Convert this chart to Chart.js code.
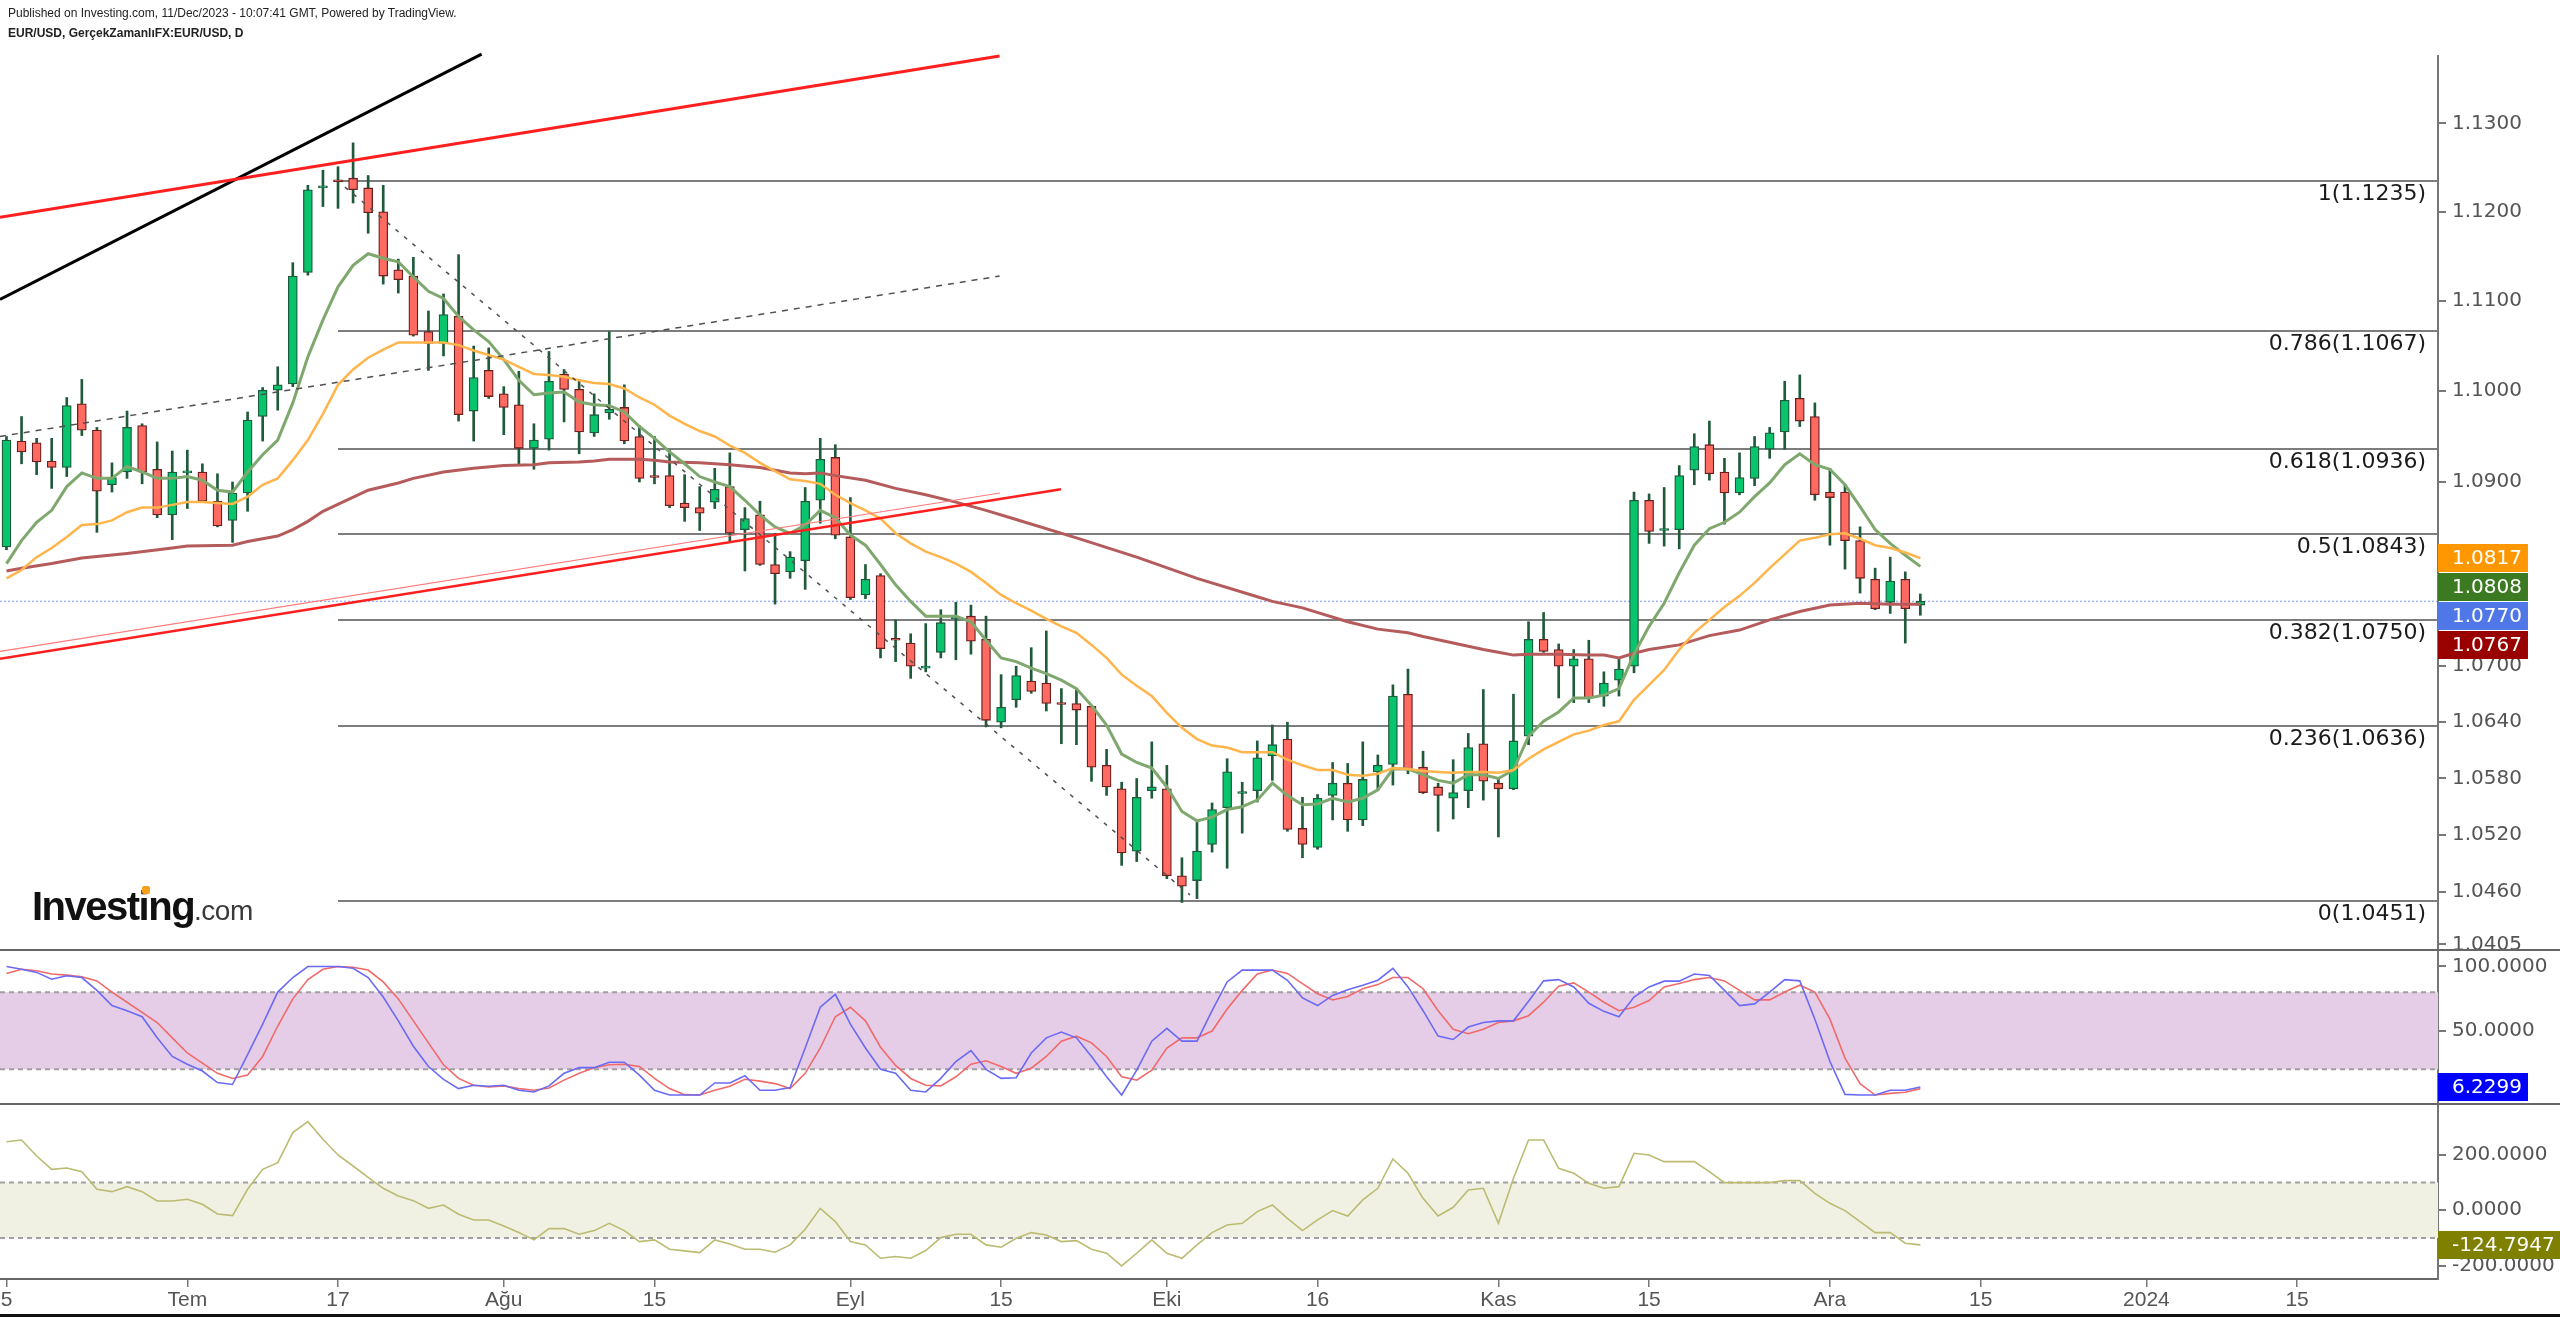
<!DOCTYPE html>
<html>
<head>
<meta charset="utf-8">
<title>EUR/USD D</title>
<script src="https://cdn.jsdelivr.net/npm/chart.js@4.4.1/dist/chart.umd.min.js"></script>
<style>
  html, body { margin: 0; padding: 0; background: #fff; }
  body { width: 2560px; height: 1317px; position: relative; overflow: hidden; }
  .pane { position: absolute; left: 0; width: 2560px; }
  #paneMain { top: 0; height: 949px; }
  #paneStoch { top: 949px; height: 154px; }
  #paneCci { top: 1103px; height: 214px; }
  .hdr { position: absolute; left: 8px; font-family: "Liberation Sans", Arial, sans-serif; font-size: 12px; color: #222; white-space: nowrap; z-index: 5; }
  #hdr1 { top: 6px; }
  #hdr2 { top: 26px; font-weight: bold; }
  #logo { position: absolute; left: 32px; top: 886px; height: 40px; line-height: 40px; font-size: 40px; font-family: "Liberation Sans", Arial, sans-serif; white-space: nowrap; z-index: 5; }
  #logo b { font-weight: 700; letter-spacing: -1.5px; color: #111; }
  #logo span { font-size: 28px; color: #3a3a3a; letter-spacing: -0.5px; }
  #logoDot { position: absolute; left: 142px; top: 886px; width: 8px; height: 8px; background: #f4a01c; border-radius: 2px; z-index: 6; }
  #bottomBar { position: absolute; left: 0; top: 1314px; width: 2560px; height: 3px; background: #111; z-index: 5; }
</style>
</head>
<body>
<div class="hdr" id="hdr1">Published on Investing.com, 11/Dec/2023 - 10:07:41 GMT, Powered by TradingView.</div>
<div class="hdr" id="hdr2">EUR/USD, GerçekZamanlıFX:EUR/USD, D</div>
<div class="pane" id="paneMain"><canvas id="cMain"></canvas></div>
<div class="pane" id="paneStoch"><canvas id="cStoch"></canvas></div>
<div class="pane" id="paneCci"><canvas id="cCci"></canvas></div>
<div id="logo"><b>Investing</b><span>.com</span></div>
<div id="logoDot"></div>
<div id="bottomBar"></div>

<script>
// daily candles, 15 Jun 2023 (index 0) .. 11 Dec 2023 (index 127)
const open = [
  1.0829,1.0945,1.0943,1.0923,1.0916,1.0986,1.0957,1.0897,1.0911,1.0962,
  1.0914,1.0864,1.0910,1.0911,1.0879,1.0858,1.0888,1.0972,1.1001,1.1008,
  1.1132,1.1227,1.1235,1.1238,1.1227,1.1200,1.1135,1.1128,1.1066,1.1053,
  1.1083,1.0978,1.1023,1.0997,1.0985,1.0937,1.0947,1.1019,1.1002,1.0954,
  1.0976,1.0982,1.0950,1.0906,1.0907,1.0877,1.0872,1.0878,1.0895,1.0848,
  1.0864,1.0810,1.0802,1.0814,1.0880,1.0927,1.0840,1.0777,1.0798,1.0729,
  1.0725,1.0698,1.0715,1.0751,1.0754,1.0729,1.0640,1.0664,1.0684,1.0682,
  1.0660,1.0660,1.0657,1.0594,1.0569,1.0503,1.0567,1.0569,1.0477,1.0472,
  1.0510,1.0549,1.0564,1.0567,1.0604,1.0622,1.0527,1.0507,1.0562,1.0575,
  1.0536,1.0587,1.0595,1.0670,1.0592,1.0571,1.0559,1.0567,1.0617,1.0575,
  1.0569,1.0625,1.0729,1.0718,1.0700,1.0708,1.0668,1.0685,1.0700,1.0880,
  1.0847,1.0848,1.0913,1.0941,1.0911,1.0888,1.0904,1.0936,1.0955,1.0992,
  1.0972,1.0889,1.0889,1.0836,1.0794,1.0769,1.0794,1.0766];
const high = [
  1.0950,1.0972,1.0948,1.0948,1.0993,1.1013,1.0960,1.0921,1.0978,1.0964,
  1.0944,1.0934,1.0935,1.0920,1.0909,1.0900,1.0977,1.1004,1.1027,1.1143,
  1.1230,1.1247,1.1251,1.1278,1.1241,1.1230,1.1147,1.1149,1.1089,1.1108,
  1.1152,1.1050,1.1048,1.1005,1.1022,1.0964,1.1044,1.1024,1.1013,1.0997,
  1.1066,1.1007,1.0962,1.0950,1.0935,1.0908,1.0895,1.0915,1.0932,1.0872,
  1.0879,1.0844,1.0824,1.0894,1.0948,1.0941,1.0883,1.0810,1.0800,1.0750,
  1.0735,1.0746,1.0761,1.0769,1.0766,1.0754,1.0691,1.0700,1.0720,1.0738,
  1.0676,1.0676,1.0658,1.0611,1.0576,1.0580,1.0619,1.0594,1.0496,1.0535,
  1.0554,1.0601,1.0576,1.0620,1.0637,1.0640,1.0560,1.0563,1.0597,1.0596,
  1.0619,1.0605,1.0680,1.0697,1.0609,1.0575,1.0600,1.0628,1.0675,1.0581,
  1.0670,1.0748,1.0758,1.0724,1.0718,1.0728,1.0694,1.0709,1.0889,1.0887,
  1.0894,1.0918,1.0953,1.0967,1.0926,1.0932,1.0950,1.0960,1.1011,1.1018,
  1.0987,1.0915,1.0897,1.0851,1.0806,1.0818,1.0802,1.0778];
const low = [
  1.0826,1.0920,1.0908,1.0893,1.0906,1.0951,1.0845,1.0889,1.0904,1.0898,
  1.0861,1.0837,1.0871,1.0878,1.0851,1.0834,1.0868,1.0945,1.0979,1.1005,
  1.1129,1.1206,1.1204,1.1210,1.1176,1.1119,1.1109,1.1061,1.1023,1.1039,
  1.0967,1.0945,1.0992,1.0952,1.0920,1.0914,1.0935,1.0966,1.0931,1.0950,
  1.0969,1.0942,1.0900,1.0898,1.0872,1.0857,1.0847,1.0871,1.0835,1.0803,
  1.0809,1.0767,1.0795,1.0783,1.0855,1.0838,1.0772,1.0773,1.0709,1.0705,
  1.0687,1.0694,1.0709,1.0707,1.0713,1.0635,1.0634,1.0656,1.0671,1.0652,
  1.0617,1.0616,1.0577,1.0562,1.0488,1.0492,1.0559,1.0474,1.0449,1.0453,
  1.0502,1.0485,1.0522,1.0555,1.0578,1.0524,1.0496,1.0505,1.0536,1.0524,
  1.0530,1.0567,1.0573,1.0585,1.0564,1.0524,1.0537,1.0549,1.0557,1.0518,
  1.0568,1.0616,1.0715,1.0666,1.0661,1.0661,1.0657,1.0668,1.0693,1.0833,
  1.0830,1.0827,1.0897,1.0902,1.0854,1.0886,1.0896,1.0926,1.0936,1.0961,
  1.0880,1.0831,1.0805,1.0779,1.0761,1.0757,1.0725,1.0755];
const close = [
  1.0946,1.0933,1.0922,1.0916,1.0984,1.0957,1.0890,1.0905,1.0960,1.0911,
  1.0864,1.0911,1.0911,1.0879,1.0852,1.0888,1.0968,1.1001,1.1007,1.1128,
  1.1225,1.1228,1.1234,1.1225,1.1199,1.1128,1.1124,1.1062,1.1053,1.1085,
  1.0974,1.1015,1.0994,1.0982,1.0937,1.0946,1.1011,1.1002,1.0955,1.0974,
  1.0980,1.0945,1.0904,1.0905,1.0874,1.0872,1.0866,1.0892,1.0844,1.0860,
  1.0810,1.0800,1.0818,1.0879,1.0925,1.0842,1.0774,1.0794,1.0719,1.0728,
  1.0700,1.0700,1.0747,1.0752,1.0727,1.0642,1.0656,1.0690,1.0673,1.0660,
  1.0659,1.0653,1.0592,1.0571,1.0501,1.0560,1.0571,1.0477,1.0466,1.0503,
  1.0547,1.0587,1.0565,1.0602,1.0616,1.0526,1.0510,1.0559,1.0575,1.0536,
  1.0579,1.0594,1.0668,1.0589,1.0565,1.0562,1.0565,1.0613,1.0577,1.0569,
  1.0620,1.0729,1.0716,1.0700,1.0708,1.0666,1.0682,1.0697,1.0880,1.0846,
  1.0848,1.0907,1.0939,1.0909,1.0888,1.0905,1.0939,1.0954,1.0990,1.0967,
  1.0886,1.0883,1.0836,1.0795,1.0762,1.0792,1.0762,1.0770];

// moving averages
const maFast = [
  1.0811,1.0836,1.0856,1.0869,1.0895,1.0910,1.0904,1.0904,1.0917,1.0911,
  1.0904,1.0904,1.0906,1.0902,1.0891,1.0889,1.0911,1.0930,1.0946,1.0987,
  1.1038,1.1079,1.1116,1.1140,1.1153,1.1148,1.1144,1.1127,1.1111,1.1103,
  1.1083,1.1068,1.1055,1.1035,1.1012,1.0996,1.0998,1.0999,1.0988,1.0985,
  1.0984,1.0977,1.0961,1.0948,1.0933,1.0920,1.0906,1.0900,1.0895,1.0880,
  1.0864,1.0851,1.0844,1.0853,1.0869,1.0861,1.0842,1.0831,1.0810,1.0788,
  1.0770,1.0754,1.0754,1.0754,1.0748,1.0728,1.0709,1.0705,1.0698,1.0692,
  1.0685,1.0676,1.0658,1.0637,1.0606,1.0597,1.0591,1.0571,1.0545,1.0535,
  1.0539,1.0547,1.0550,1.0557,1.0575,1.0562,1.0552,1.0553,1.0559,1.0555,
  1.0559,1.0568,1.0590,1.0590,1.0584,1.0578,1.0575,1.0584,1.0584,1.0580,
  1.0589,1.0625,1.0641,1.0651,1.0666,1.0666,1.0669,1.0676,1.0713,1.0743,
  1.0768,1.0801,1.0831,1.0849,1.0856,1.0867,1.0884,1.0899,1.0919,1.0931,
  1.0919,1.0914,1.0897,1.0873,1.0848,1.0833,1.0820,1.0808];
const maMid = [
  1.0795,1.0804,1.0818,1.0828,1.0840,1.0853,1.0854,1.0858,1.0867,1.0872,
  1.0872,1.0875,1.0878,1.0878,1.0877,1.0876,1.0884,1.0897,1.0904,1.0924,
  1.0946,1.0975,1.1007,1.1024,1.1037,1.1046,1.1054,1.1054,1.1054,1.1054,
  1.1051,1.1045,1.1040,1.1035,1.1027,1.1019,1.1018,1.1016,1.1012,1.1009,
  1.1008,1.1003,1.0993,1.0985,1.0973,1.0964,1.0956,1.0950,1.0940,1.0932,
  1.0921,1.0912,1.0903,1.0901,1.0898,1.0886,1.0877,1.0869,1.0860,1.0844,
  1.0833,1.0824,1.0818,1.0811,1.0802,1.0790,1.0777,1.0768,1.0760,1.0751,
  1.0743,1.0736,1.0723,1.0709,1.0691,1.0679,1.0668,1.0650,1.0634,1.0622,
  1.0615,1.0613,1.0608,1.0608,1.0608,1.0600,1.0594,1.0589,1.0589,1.0584,
  1.0583,1.0585,1.0591,1.0590,1.0588,1.0587,1.0586,1.0587,1.0587,1.0586,
  1.0589,1.0601,1.0611,1.0619,1.0627,1.0631,1.0637,1.0641,1.0664,1.0680,
  1.0696,1.0718,1.0736,1.0750,1.0764,1.0776,1.0790,1.0806,1.0821,1.0836,
  1.0839,1.0843,1.0844,1.0838,1.0831,1.0828,1.0823,1.0817];
const slowIdx = [0,1,3,5,8,11,12,15,16,17,18,19,20,21,24,26,27,29,31,33,35,36,38,39,40,42,43,44,46,48,
  50,52,53,54,55,57,59,61,63,65,67,71,75,79,83,84,86,89,91,93,94,96,98,99,100,101,103,105,106,107,
  108,109,111,113,115,117,119,121,123,125,127];
const slowVal = [1.0803,1.0806,1.0811,1.0817,1.0822,1.0828,1.0830,1.0831,1.0835,1.0838,
  1.0841,1.0848,1.0857,1.0868,1.0891,1.0899,1.0904,1.0911,1.0915,1.0918,
  1.0919,1.0921,1.0922,1.0923,1.0925,1.0925,1.0924,1.0922,1.0921,1.0919,
  1.0916,1.0910,1.0909,1.0910,1.0907,1.0902,1.0893,1.0886,1.0878,1.0869,
  1.0859,1.0839,1.0818,1.0795,1.0775,1.0770,1.0763,1.0748,1.0740,1.0736,
  1.0732,1.0725,1.0718,1.0715,1.0712,1.0713,1.0713,1.0712,1.0712,1.0709,
  1.0714,1.0718,1.0723,1.0733,1.0739,1.0750,1.0759,1.0766,1.0768,1.0767,1.0767];

// stochastic %K / %D and CCI
const stochK = [
  100,97.8,95.4,90.1,92.8,91.4,81.4,69.6,65.6,60.9,
  44.5,30.0,24.0,18.7,9.7,8.2,31.4,55.1,80.1,91.4,
  100,100,100,98.6,91.4,76.2,57.7,38.0,22.2,12.2,
  5.0,7.6,6.8,7.6,3.7,2.4,7.1,16.9,21.3,21.3,
  25.5,25.5,15.5,3.7,0,0,0,9.4,9.4,15.0,
  3.7,3.7,5.8,36.6,68.3,78.3,55.1,36.6,20.0,16.9,
  3.7,2.4,13.0,26.1,34.6,20.0,13.0,13.5,32.7,44.5,
  49.0,44.5,30.0,14.2,0,19.4,41.9,51.9,41.9,41.9,
  65.6,88.0,97.2,97.2,97.2,89.3,75.6,69.6,77.5,81.9,
  85.4,89.3,98.6,84.1,65.6,45.8,43.2,52.9,56.4,57.7,
  57.7,73.0,88.8,89.8,84.1,71.4,65.1,60.9,76.2,84.1,
  88.6,88.6,94.1,93.0,81.4,69.6,70.9,80.1,89.8,88.8,
  59.0,26.1,0.5,0,0,3.7,3.7,6.2299];
const stochD = [
  94.5,97.8,96.7,94.1,93.3,92.0,88.8,80.1,72.2,64.3,
  56.4,44.5,32.7,24.8,16.9,12.9,15.5,30.0,53.7,74.8,
  89.8,97.8,100,99.4,97.2,88.0,74.8,57.7,40.6,23.5,
  12.9,7.6,6.3,7.1,5.0,3.7,5.5,11.6,16.9,21.3,
  23.5,24.0,22.2,12.9,5.0,0.3,0,3.7,6.8,12.3,
  10.8,8.9,5.0,16.9,36.6,60.9,68.3,57.7,37.2,23.0,
  12.9,7.6,7.1,14.2,24.0,26.6,22.2,16.9,20.9,30.0,
  41.9,45.8,40.6,30.0,14.2,11.6,19.4,36.6,44.5,44.5,
  49.8,66.9,81.4,94.1,97.2,94.6,86.7,78.8,74.0,76.7,
  82.7,85.9,91.4,91.4,82.7,65.6,51.1,47.7,51.1,56.4,
  57.7,61.7,72.2,84.6,87.2,80.1,72.2,65.6,68.3,73.5,
  84.1,86.7,89.8,91.4,88.8,81.4,74.0,74.0,80.1,85.4,
  80.1,59.0,28.7,8.9,0,1.3,2.1,5.0];
const cci = [
  246.8,253,195.3,147.4,152.2,139.0,75.3,66.9,84.9,66.9,
  33.3,33.3,39.3,21.3,-13.5,-19.5,75.3,147.4,171.4,279.5,
  319.1,255.4,199.0,159.3,118.5,78.9,51.3,34.5,6.8,18.8,
  -14.7,-35.1,-35.1,-56.7,-80.7,-107.1,-66.3,-66.3,-86.7,-73.5,
  -47.1,-73.5,-113.1,-107.1,-140.7,-146.7,-152.7,-107.1,-121.5,-140.7,
  -140.7,-151.5,-125.1,-68.7,6.8,-41.1,-113.1,-125.1,-173.1,-167.1,
  -173.1,-145.5,-98.7,-86.7,-86.7,-125,-133.5,-101.1,-80.7,-89.1,
  -113.1,-109.5,-140.7,-155.1,-200.7,-155.1,-107.1,-155.1,-173.1,-125.1,
  -80.7,-53.1,-47.1,-5.1,18.8,-29.1,-73.5,-35.1,-1.4,-20.7,
  36.9,78.9,184.6,133.0,42.9,-20.7,10.5,72.9,78.9,-47.1,
  114.9,253.0,253.0,150.9,133.0,96.9,78.9,84.9,205.0,199.0,
  175.0,175.0,175.0,139.0,99.3,99.3,99.3,99.3,106.5,106.5,
  60.9,24.9,-1.4,-41.1,-80.7,-80.7,-119.1,-124.7947];

// axes
const xTickIdx = [0, 12, 22, 33, 43, 56, 66, 77, 87, 99, 109, 121, 131, 142, 152];
const xTickText = ['5', 'Tem', '17', 'Ağu', '15', 'Eyl', '15', 'Eki', '16', 'Kas', '15', 'Ara', '15', '2024', '15'];
const priceTicks = [1.13, 1.12, 1.11, 1.10, 1.09, 1.07, 1.064, 1.058, 1.052, 1.046, 1.0405];
const stochTicks = [100, 50];
const cciTicks = [200, 0, -200];
const stochBand = [20, 80];
const cciBand = [-100, 100];

// fibonacci retracement, drawn from 17 Jul
const fibStartIdx = 22;
const fibRatio = [1, 0.786, 0.618, 0.5, 0.382, 0.236, 0];
const fibPrice = [1.1235, 1.1067, 1.0936, 1.0843, 1.0750, 1.0636, 1.0451];

// trend lines [day index, price]
const trendStart = [[-0.43, 1.1102], [-0.43, 1.1194], [-0.43, 1.0950], [22.46, 1.1228], [-0.43, 1.0716], [-0.43, 1.0708]];
const trendEnd = [[31.53, 1.1379], [65.9, 1.1377], [65.9, 1.1128], [78.53, 1.0457], [65.93, 1.0888], [69.97, 1.0892]];
const trendStyle = [
  { color: '#000000', width: 3, dash: [] },
  { color: '#ff1f1f', width: 3, dash: [] },
  { color: '#505050', width: 1.5, dash: [6, 6] },
  { color: '#505050', width: 1.5, dash: [4, 7] },
  { color: '#ff7a7a', width: 1.2, dash: [] },
  { color: '#ff1f1f', width: 2.5, dash: [] }
];

const AXIS_W = 122;
const X_MIN = -0.43, X_MAX = 161.35;
const AXIS_FONT = { family: 'DejaVu Sans', size: 20 };

const pts = arr => arr.map((v, i) => ({ x: i, y: v }));
const last = arr => arr[arr.length - 1];

function seg(ctx, x1, y1, x2, y2) {
  ctx.beginPath(); ctx.moveTo(x1, y1); ctx.lineTo(x2, y2); ctx.stroke();
}

function valueBox(ctx, left, cy, text, color) {
  ctx.font = '20px "DejaVu Sans"';
  const w = ctx.measureText(text).width + 20;
  ctx.fillStyle = color;
  ctx.fillRect(left, Math.round(cy - 14), w, 28);
  ctx.fillStyle = '#fff';
  ctx.textAlign = 'left';
  ctx.textBaseline = 'middle';
  ctx.fillText(text, left + 14, cy + 1);
}

function xAxis(show) {
  const ax = { type: 'linear', min: X_MIN, max: X_MAX, bounds: 'data', offset: false, display: show };
  if (!show) return ax;
  return Object.assign(ax, {
    afterBuildTicks: s => { s.ticks = xTickIdx.map(v => ({ value: v })); },
    afterFit: s => { s.height = 38; s.paddingLeft = 0; s.paddingRight = 0; },
    ticks: { autoSkip: false, maxRotation: 0, minRotation: 0, padding: 1, color: '#555',
      font: { family: '"Liberation Sans Narrow", "Liberation Sans"', size: 21 },
      callback: (v, k) => xTickText[k] },
    grid: { drawOnChartArea: false, tickLength: 8, color: '#777', lineWidth: 1.5 },
    border: { color: '#666', width: 2 }
  });
}

function yAxis(type, min, max, tickVals, withBorder) {
  return {
    type, position: 'right', min, max, bounds: 'data',
    afterBuildTicks: s => { s.ticks = tickVals.map(v => ({ value: v })); },
    afterFit: s => { s.width = AXIS_W; s.paddingTop = 0; s.paddingBottom = 0; },
    ticks: { autoSkip: false, padding: 6, color: '#555', font: AXIS_FONT, callback: v => Number(v).toFixed(4) },
    grid: { drawOnChartArea: false, tickLength: 8, color: '#777', lineWidth: 2 },
    border: { display: withBorder, color: '#777', width: 2 }
  };
}

function baseOptions(scales) {
  return {
    responsive: true, maintainAspectRatio: false, animation: false, devicePixelRatio: 1, events: [],
    layout: { padding: 0, autoPadding: false },
    plugins: { legend: { display: false }, tooltip: { enabled: false } },
    scales
  };
}

const mainDecor = {
  id: 'mainDecor',
  beforeDatasetsDraw(chart) {
    const { ctx, chartArea: a, scales: { x, y } } = chart;
    ctx.save();
    const yl = y.getPixelForValue(last(close));
    ctx.strokeStyle = '#9fb3f2'; ctx.lineWidth = 1.5; ctx.setLineDash([2, 2]);
    seg(ctx, a.left, yl, a.right, yl);
    ctx.setLineDash([]);
    ctx.strokeStyle = '#7d7d7d'; ctx.lineWidth = 2;
    ctx.font = '22px "DejaVu Sans"'; ctx.fillStyle = '#1b1b1b';
    ctx.textAlign = 'right'; ctx.textBaseline = 'top';
    const x0 = x.getPixelForValue(fibStartIdx);
    fibPrice.forEach((p, k) => {
      const yy = Math.round(y.getPixelForValue(p));
      seg(ctx, x0, yy, a.right, yy);
      ctx.fillText(fibRatio[k] + '(' + p.toFixed(4) + ')', a.right - 12, yy + 2);
    });
    ctx.restore();
  },
  afterDatasetsDraw(chart) {
    const { ctx, chartArea: a, scales: { x, y } } = chart;
    ctx.save();
    ctx.beginPath(); ctx.rect(a.left, a.top, a.right - a.left, a.bottom - a.top); ctx.clip();
    trendStart.forEach((s, k) => {
      const e = trendEnd[k], st = trendStyle[k];
      ctx.strokeStyle = st.color; ctx.lineWidth = st.width; ctx.setLineDash(st.dash);
      seg(ctx, x.getPixelForValue(s[0]), y.getPixelForValue(s[1]), x.getPixelForValue(e[0]), y.getPixelForValue(e[1]));
    });
    ctx.restore();
  },
  afterDraw(chart) {
    const { ctx, chartArea: a, scales: { y } } = chart;
    ctx.save();
    ctx.strokeStyle = '#777'; ctx.lineWidth = 2;
    seg(ctx, a.right, 55, a.right, chart.height);
    const items = [
      { v: last(maMid), c: '#ff9800' },
      { v: last(maFast), c: '#3b7a21' },
      { v: last(close), c: '#4f77e8' },
      { v: last(slowVal), c: '#990000' }
    ].sort((p, q) => q.v - p.v);
    let prev = -1e9;
    items.forEach(it => {
      const cy = Math.max(y.getPixelForValue(it.v), prev + 29);
      prev = cy;
      valueBox(ctx, a.right, cy, it.v.toFixed(4), it.c);
    });
    ctx.restore();
  }
};

function paneDecor(band, fill, boxValue, boxColor) {
  return {
    id: 'paneDecor',
    beforeDatasetsDraw(chart) {
      const { ctx, chartArea: a, scales: { y } } = chart;
      const y1 = y.getPixelForValue(band[1]), y2 = y.getPixelForValue(band[0]);
      ctx.save();
      ctx.fillStyle = fill;
      ctx.fillRect(a.left, y1, a.right - a.left, y2 - y1);
      ctx.strokeStyle = '#a0a0a0'; ctx.lineWidth = 2; ctx.setLineDash([5, 4]);
      seg(ctx, a.left, y1, a.right, y1);
      seg(ctx, a.left, y2, a.right, y2);
      ctx.restore();
    },
    afterDraw(chart) {
      const { ctx, chartArea: a, scales: { y } } = chart;
      ctx.save();
      ctx.strokeStyle = '#666'; ctx.lineWidth = 2;
      seg(ctx, 0, 1, chart.width, 1);
      const cy = Math.min(y.getPixelForValue(boxValue), a.bottom - 15);
      valueBox(ctx, a.right, cy, boxValue.toFixed(4), boxColor);
      ctx.restore();
    }
  };
}

const up = close.map((c, i) => c >= open[i]);

new Chart(document.getElementById('cMain'), {
  type: 'bar',
  data: {
    datasets: [
      { type: 'line', data: pts(maMid), borderColor: '#ffb54c', borderWidth: 2.5, pointRadius: 0, tension: 0, order: 0 },
      { type: 'line', data: pts(maFast), borderColor: '#7fa86f', borderWidth: 3, pointRadius: 0, tension: 0, order: 0 },
      { type: 'line', data: slowIdx.map((v, k) => ({ x: v, y: slowVal[k] })), borderColor: '#b55b5b', borderWidth: 3, pointRadius: 0, tension: 0, order: 0 },
      { data: close.map((c, i) => ({ x: i, y: [open[i], c] })),
        backgroundColor: up.map(u => u ? '#08c46c' : '#ff6b61'),
        borderColor: up.map(u => u ? '#1e5a3c' : '#6d1f1f'),
        borderWidth: 1.3, borderSkipped: false, barThickness: 9, minBarLength: 2, grouped: false, order: 1 },
      { data: close.map((c, i) => ({ x: i, y: [low[i], high[i]] })),
        backgroundColor: '#1f5a3a', barThickness: 2, grouped: false, order: 2 }
    ]
  },
  options: baseOptions({
    x: xAxis(false),
    y: yAxis('logarithmic', 1.04002, 1.14411, priceTicks, false)
  }),
  plugins: [mainDecor]
});

new Chart(document.getElementById('cStoch'), {
  type: 'line',
  data: {
    datasets: [
      { data: pts(stochK), borderColor: '#6a6af5', borderWidth: 1.6, pointRadius: 0, tension: 0 },
      { data: pts(stochD), borderColor: '#f06a6a', borderWidth: 1.6, pointRadius: 0, tension: 0 }
    ]
  },
  options: baseOptions({
    x: xAxis(false),
    y: yAxis('linear', -6.2, 113.6, stochTicks, true)
  }),
  plugins: [paneDecor(stochBand, '#e6cde7', last(stochK), '#0000ff')]
});

new Chart(document.getElementById('cCci'), {
  type: 'line',
  data: {
    datasets: [
      { data: pts(cci), borderColor: '#bbbb72', borderWidth: 1.6, pointRadius: 0, tension: 0 }
    ]
  },
  options: baseOptions({
    x: xAxis(true),
    y: yAxis('linear', -247.9, 386.3, cciTicks, true)
  }),
  plugins: [paneDecor(cciBand, '#f1f1e3', last(cci), '#808000')]
});
</script>
</body>
</html>
